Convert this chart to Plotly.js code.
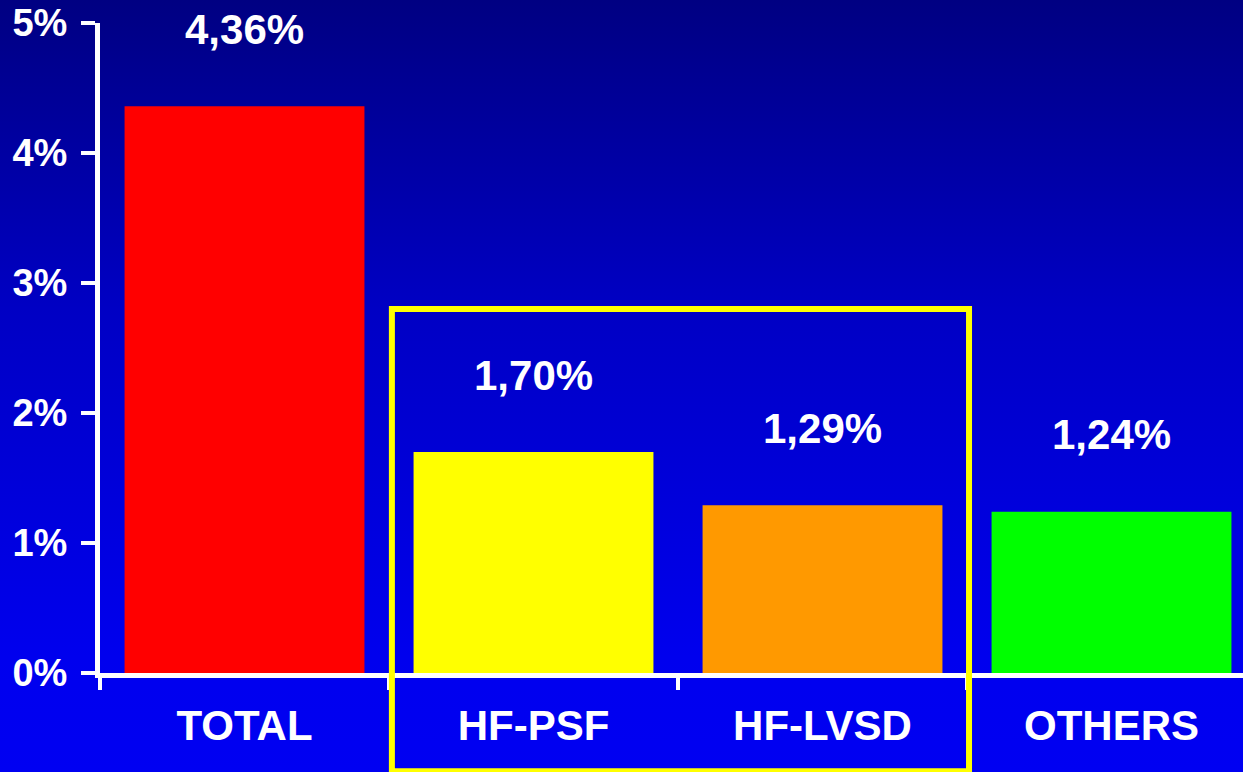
<!DOCTYPE html>
<html>
<head>
<meta charset="utf-8">
<script src="https://cdn.plot.ly/plotly-3.0.1.min.js"></script>
<style>
  html, body { margin: 0; padding: 0; overflow: hidden; }
  body {
    width: 1243px; height: 772px;
    background: linear-gradient(to bottom, #000082 0%, #0000c4 40%, #0000ee 85%, #0000f2 100%);
  }
  #chart { width: 1243px; height: 772px; }
</style>
</head>
<body>
<div id="chart"></div>
<script>
// Heart failure prevalence by group
const categories = ['TOTAL', 'HF-PSF', 'HF-LVSD', 'OTHERS'];
const prevalence = [4.36, 1.70, 1.29, 1.24];
const barColors = ['#ff0000', '#ffff00', '#ff9900', '#00ff00'];
const yTicks = [0, 1, 2, 3, 4, 5];

const FONT = 'Liberation Sans, Arial, sans-serif';

const fmt = v => v.toFixed(2).replace('.', ',') + '%';

const trace = {
  type: 'bar',
  x: categories,
  y: prevalence,
  marker: { color: barColors, line: { width: 0 } },
  hoverinfo: 'none'
};

const valueLabels = categories.map((c, i) => ({
  x: c, y: prevalence[i], xref: 'x', yref: 'y',
  text: '<b>' + fmt(prevalence[i]) + '</b>',
  showarrow: false, yanchor: 'middle', yshift: 77,
  font: { family: FONT, size: 42, color: '#ffffff' }
}));

const layout = {
  width: 1243, height: 772,
  margin: { l: 100, r: 0, t: 23, b: 99 },
  paper_bgcolor: 'rgba(0,0,0,0)',
  plot_bgcolor: 'rgba(0,0,0,0)',
  showlegend: false,
  bargap: 0.17,
  xaxis: {
    type: 'category',
    range: [-0.5, 3.455],
    showline: true, linecolor: '#ffffff', linewidth: 5,
    ticks: 'outside', tickson: 'boundaries', ticklen: 12, tickwidth: 4, tickcolor: '#ffffff',
    showgrid: false, zeroline: false,
    ticklabelstandoff: 12,
    tickfont: { family: FONT, size: 42, color: '#ffffff', weight: 'bold' }
  },
  yaxis: {
    range: [0, 5],
    tickvals: yTicks,
    ticktext: yTicks.map(v => v + '%'),
    showline: true, linecolor: '#ffffff', linewidth: 5,
    ticks: 'outside', ticklen: 14, tickwidth: 4, tickcolor: '#ffffff',
    showgrid: false, zeroline: false,
    ticklabelstandoff: 6,
    tickfont: { family: FONT, size: 38, color: '#ffffff', weight: 'bold' }
  },
  annotations: valueLabels,
  shapes: [{
    type: 'rect', xref: 'x', yref: 'paper',
    x0: 0.51, x1: 2.507, y0: -0.151, y1: 0.56,
    line: { color: '#ffff00', width: 6 },
    fillcolor: 'rgba(0,0,0,0)', layer: 'above'
  }]
};

Plotly.newPlot('chart', [trace], layout, { displayModeBar: false, staticPlot: true });
</script>
</body>
</html>
